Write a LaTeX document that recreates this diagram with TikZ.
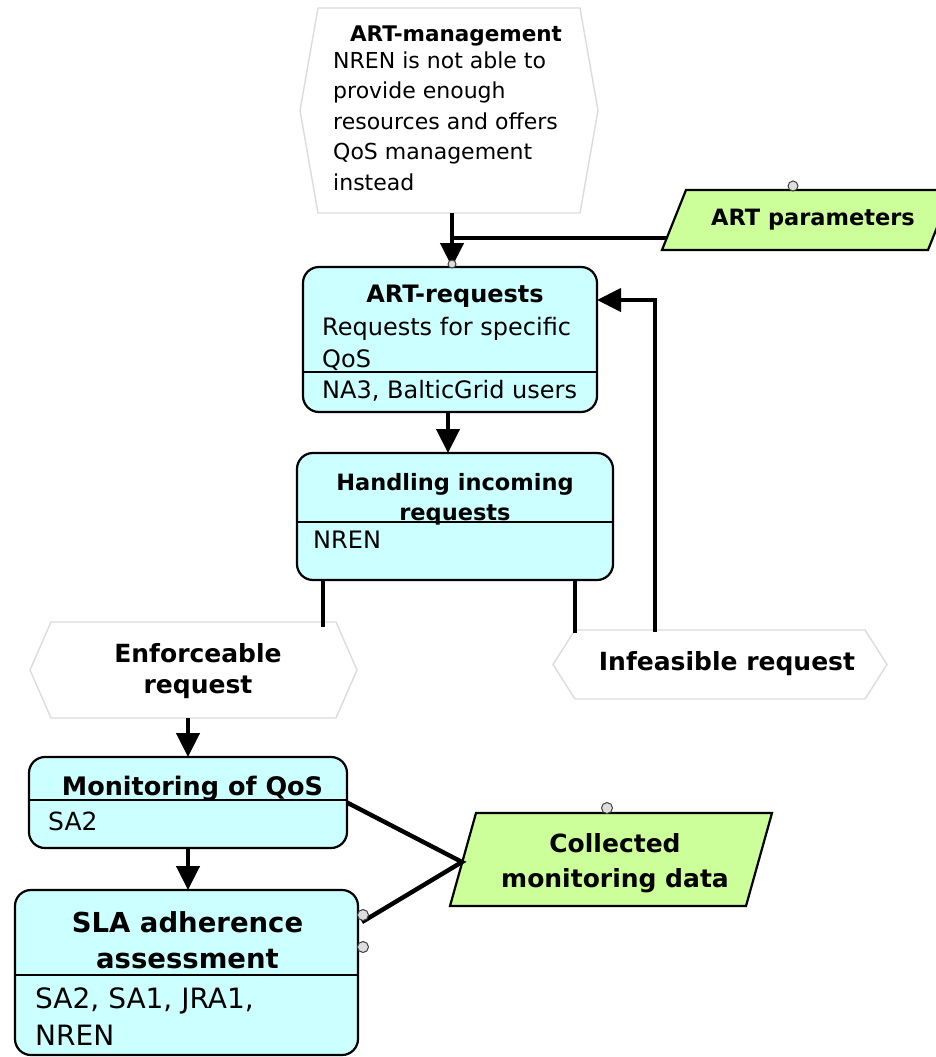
\documentclass[tikz,border=0pt]{standalone}
\usepackage{fontspec}
\setmainfont{DejaVu Sans}
\usetikzlibrary{arrows.meta}

\definecolor{procfill}{RGB}{204,255,255}
\definecolor{datafill}{RGB}{204,255,153}
\definecolor{eventline}{RGB}{220,220,220}
\definecolor{portfill}{RGB}{222,222,222}

% hexagonal event drawn around an empty frame node: #1 node name, #2 slant
\newcommand\drawevent[2]{%
  \draw[eventshape] (#1.west) -- ([xshift=#2]#1.north west) -- ([xshift=-#2]#1.north east)
    -- (#1.east) -- ([xshift=-#2]#1.south east) -- ([xshift=#2]#1.south west) -- cycle;}
% slanted data object drawn inside an empty frame node: #1 node name, #2 slant
\newcommand\drawdata[2]{%
  \draw[datashape] ([xshift=#2]#1.north west) -- (#1.north east)
    -- ([xshift=-#2]#1.south east) -- (#1.south west) -- cycle;}

\begin{document}
\begin{tikzpicture}[x=1pt,y=-1pt,
  frame/.style={inner sep=0pt,outer sep=0pt,draw=none},
  procbox/.style={frame,draw=black,line width=2.2pt,fill=procfill,rounded corners=16pt},
  divider/.style={draw=black,line width=1.8pt},
  eventshape/.style={draw=eventline,line width=1.4pt,fill=white},
  datashape/.style={draw=black,line width=2.2pt,fill=datafill},
  flow/.style={draw=black,line width=4.4pt},
  arrowflow/.style={flow,-{Triangle[length=24pt,width=23pt]}},
  port/.style={circle,draw=black!75,line width=1pt,fill=portfill,inner sep=0pt,minimum size=#1},
  port/.default=10pt,
  title/.style={inner sep=0pt,anchor=base,align=center},
  body/.style={inner sep=0pt,anchor=base west,align=left},
]
\useasboundingbox (0,0) rectangle (936,1057);
\fill[white] (0,0) rectangle (936,1057);

% multi-line texts are placed by the baseline of their last line

% ---------- event: ART-management ----------
\node[frame,minimum width=298pt,minimum height=205pt] (mgmt) at (449,110.5) {};
\drawevent{mgmt}{18pt}
\node[title,font=\bfseries\fontsize{21.5}{30}\selectfont] (mgmtT) at (456,42) {ART-management};
\node[body,font=\fontsize{22}{30.5}\selectfont] (mgmtB) at (333,190)
  {NREN is not able to\\provide enough\\resources and offers\\QoS management\\instead};

% ---------- data: ART parameters ----------
\node[frame,minimum width=290pt,minimum height=60pt] (artpar) at (807,220) {};
\drawdata{artpar}{24pt}
\node[title,font=\bfseries\fontsize{22.5}{28}\selectfont] (artparT) at (813,225) {ART parameters};

% ---------- function: ART-requests ----------
\node[procbox,minimum width=294pt,minimum height=145pt] (artreq) at (450,339.5) {};
\draw[divider] (artreq.west |- 0,372) -- (artreq.east |- 0,372);
\node[title,font=\bfseries\fontsize{24}{30}\selectfont] (artreqT) at (455,302) {ART-requests};
\node[body,font=\fontsize{24}{32}\selectfont] (artreqB) at (322,367) {Requests for specific\\QoS};
\node[body,font=\fontsize{24}{30}\selectfont] (artreqU) at (322,398) {NA3, BalticGrid users};

% ---------- function: Handling incoming requests ----------
\node[procbox,minimum width=316pt,minimum height=127pt] (handle) at (455,516.5) {};
\draw[divider] (handle.west |- 0,522) -- (handle.east |- 0,522);
\node[title,font=\bfseries\fontsize{22.5}{30}\selectfont] (handleT) at (455,520) {Handling incoming\\requests};
\node[body,font=\fontsize{24}{30}\selectfont] (handleU) at (313,548) {NREN};

% ---------- events: Enforceable / Infeasible request ----------
\node[frame,minimum width=327pt,minimum height=96pt] (enforce) at (193.5,670) {};
\drawevent{enforce}{21pt}
\node[title,font=\bfseries\fontsize{25}{31}\selectfont] (enforceT) at (198,693) {Enforceable\\request};

\node[frame,minimum width=334pt,minimum height=69pt] (infeas) at (720,664.5) {};
\drawevent{infeas}{22pt}
\node[title,font=\bfseries\fontsize{25}{31}\selectfont] (infeasT) at (727,670) {Infeasible request};

% ---------- function: Monitoring of QoS ----------
\node[procbox,minimum width=318pt,minimum height=91pt] (monitor) at (188,802.5) {};
\draw[divider] (monitor.west |- 0,800) -- (monitor.east |- 0,800);
\node[title,font=\bfseries\fontsize{25.5}{31}\selectfont] (monitorT) at (192.5,795) {Monitoring of QoS};
\node[body,font=\fontsize{25}{31}\selectfont] (monitorU) at (48,830) {SA2};

% ---------- function: SLA adherence assessment ----------
\node[procbox,minimum width=343pt,minimum height=165pt] (sla) at (186.5,972.5) {};
\draw[divider] (sla.west |- 0,975) -- (sla.east |- 0,975);
\node[title,font=\bfseries\fontsize{27.5}{36}\selectfont] (slaT) at (187.5,968) {SLA adherence\\assessment};
\node[body,font=\fontsize{28}{37}\selectfont] (slaU) at (35,1045) {SA2, SA1, JRA1,\\NREN};

% ---------- data: Collected monitoring data ----------
\node[frame,minimum width=322pt,minimum height=93pt] (coll) at (611,859.5) {};
\drawdata{coll}{26pt}
\node[title,font=\bfseries\fontsize{25}{35}\selectfont] (collT) at (615,887) {Collected\\monitoring data};

% ---------- control flow ----------
\draw[arrowflow] ([xshift=3pt]mgmt.south) -- ([xshift=2pt]artreq.north);
\draw[flow] ([xshift=5pt,yshift=-18pt]artpar.west) -| ([xshift=2pt,yshift=29pt]artreq.north);
\draw[arrowflow] ([xshift=-2pt]artreq.south) -- ([xshift=-7pt]handle.north);
\draw[flow] ([xshift=-132pt]handle.south) -- ([xshift=-132pt,yshift=-5pt]handle.south |- enforce.north);
\draw[flow] ([xshift=120pt]handle.south) -- ([xshift=120pt,yshift=-3pt]handle.south |- infeas.north);
\draw[arrowflow] ([xshift=-65pt,yshift=-2pt]infeas.north) |- ([yshift=39.5pt]artreq.east);
\draw[arrowflow] ([xshift=-5.5pt]enforce.south) -- (monitor.north);
\draw[arrowflow] (monitor.south) -- ([xshift=1.5pt]sla.north);

% data flow to and from the monitoring data
\coordinate (cjoin) at ([xshift=12pt,yshift=-2.5pt]coll.west);
\draw[flow] (monitor.east) -- (cjoin) -- ([xshift=4pt,yshift=50.5pt]sla.east);

% ---------- ports ----------
\node[port=8pt] (p1) at ([xshift=2pt,yshift=3pt]artreq.north) {};
\node[port] (p2) at ([xshift=-14pt,yshift=4pt]artpar.north) {};
\node[port=11pt] (p3) at ([xshift=-4pt,yshift=5pt]coll.north) {};
\node[port=11pt] (p4) at ([xshift=5pt,yshift=57.5pt]sla.east) {};
\node[port=11pt] (p5) at ([xshift=5pt,yshift=25.5pt]sla.east) {};
\end{tikzpicture}
\end{document}
